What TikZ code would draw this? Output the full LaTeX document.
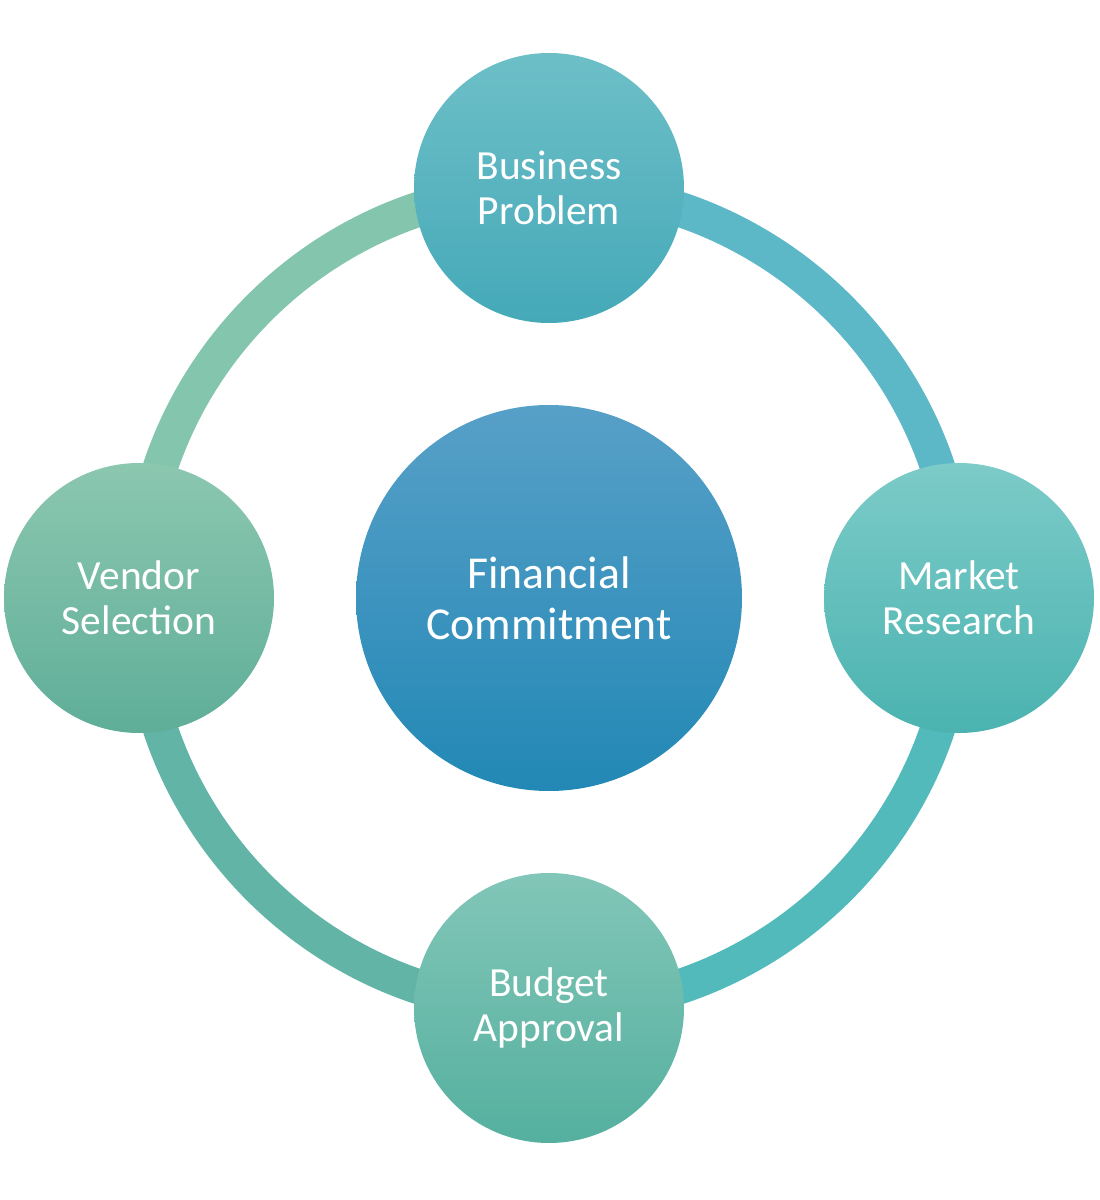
\documentclass[tikz,border=0pt]{standalone}
\usepackage{fontspec}
\setmainfont{Carlito}
\usetikzlibrary{calc}
\definecolor{ringTL}{HTML}{84C5AE}
\definecolor{ringTR}{HTML}{5CB7C7}
\definecolor{ringBR}{HTML}{52BABA}
\definecolor{ringBL}{HTML}{62B5A6}
\tikzset{
  stage/.style={circle, minimum size=2.7cm, inner sep=0pt, align=center,
    text=white, font=\fontsize{11.8}{12.8}\selectfont},
  ringarc/.style={line width=0.35cm}
}
\begin{document}
\begin{tikzpicture}
\useasboundingbox (0,0) rectangle (11,12);
\coordinate (c) at (5.49,6.02);
% ring
\draw [ringarc, ringTR] (c) ++(90:4.1) arc (90:0:4.1);
\draw [ringarc, ringBR] (c) ++(0:4.1) arc (0:-90:4.1);
\draw [ringarc, ringBL] (c) ++(-90:4.1) arc (-90:-180:4.1);
\draw [ringarc, ringTL] (c) ++(180:4.1) arc (180:90:4.1);
% nodes
\node [circle, minimum size=3.86cm, inner sep=0pt, align=center, text=white,
  font=\fontsize{13}{14.5}\selectfont, top color={rgb,255:red,87;green,160;blue,200},
  bottom color={rgb,255:red,34;green,136;blue,181}] (fin) at (c) {Financial\\Commitment};
\node [stage, top color={rgb,255:red,109;green,191;blue,199}, bottom color={rgb,255:red,69;green,169;blue,184}]
  (biz) at ($(c)+(0,4.1)$) {Business\\Problem};
\node [stage, top color={rgb,255:red,124;green,203;blue,200}, bottom color={rgb,255:red,75;green,179;blue,176}]
  (mkt) at ($(c)+(4.1,0)$) {Market\\Research};
\node [stage, top color={rgb,255:red,130;green,198;blue,184}, bottom color={rgb,255:red,85;green,176;blue,159}]
  (bud) at ($(c)+(0,-4.1)$) {Budget\\Approval};
\node [stage, top color={rgb,255:red,140;green,199;blue,176}, bottom color={rgb,255:red,95;green,174;blue,152}]
  (ven) at ($(c)+(-4.1,0)$) {Vendor\\Selection};
\end{tikzpicture}
\end{document}
